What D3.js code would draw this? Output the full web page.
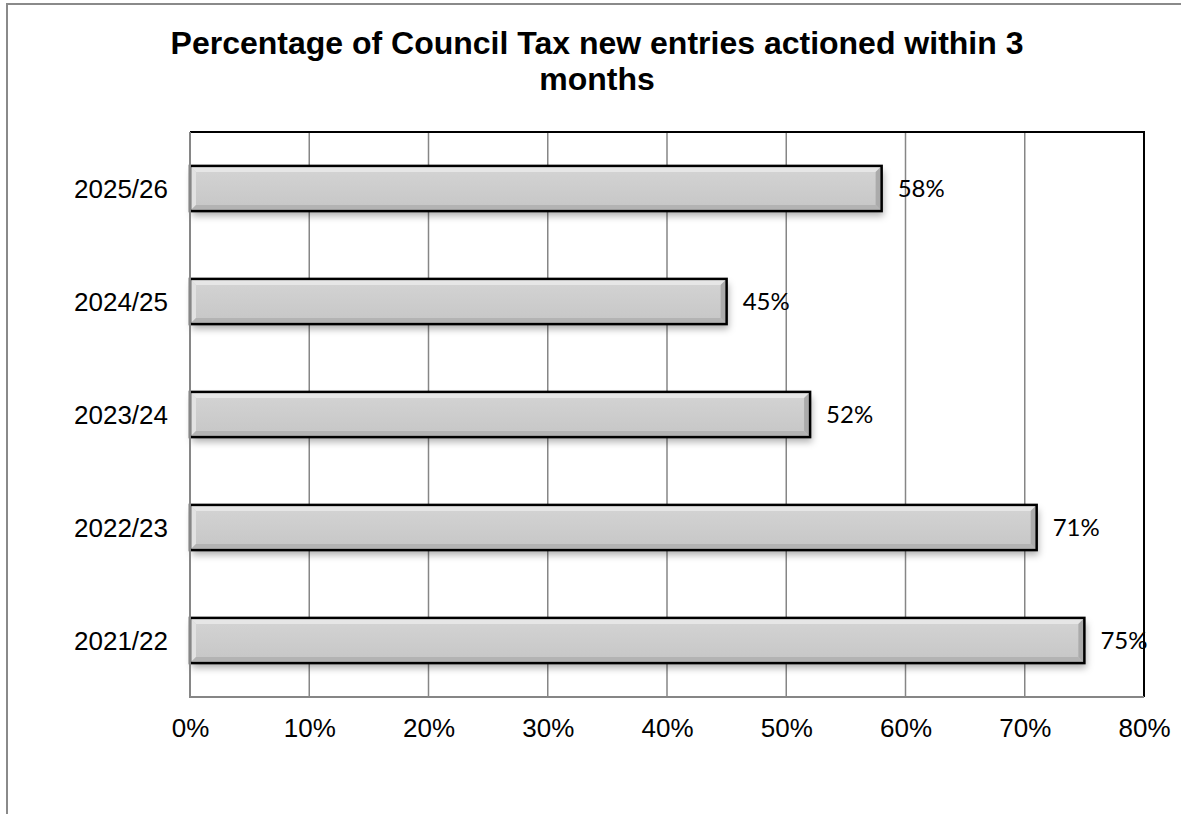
<!DOCTYPE html>
<html>
<head>
<meta charset="utf-8">
<script src="https://cdn.jsdelivr.net/npm/d3@7"></script>
<style>
  html, body { margin: 0; padding: 0; background: #fff; }
  svg { display: block; }
</style>
</head>
<body>
<svg id="chart" width="1181" height="814"></svg>
<script>
// Financial years, listed top to bottom
const categories = ["2025/26", "2024/25", "2023/24", "2022/23", "2021/22"];
// Percentage of new entries actioned within 3 months
const values = [58, 45, 52, 71, 75];
// Value axis ticks (percent)
const tickValues = [0, 10, 20, 30, 40, 50, 60, 70, 80];

const titleLines = ["Percentage of Council Tax new entries actioned within 3", "months"];

const svg = d3.select("#chart");
const plot = { left: 190, right: 1144, top: 132, bottom: 697 };

const x = d3.scaleLinear().domain([0, 80]).range([plot.left, plot.right]);
const y = d3.scaleBand().domain(categories)
  .range([plot.top, plot.bottom])
  .paddingInner(0.6).paddingOuter(0.3);

// Chart frame
svg.append("rect")
  .attr("x", 7).attr("y", 4).attr("width", 1300).attr("height", 1000)
  .attr("fill", "none").attr("stroke", "#8a8a8a").attr("stroke-width", 2);

// Title
svg.append("g").selectAll("text").data(titleLines).join("text")
  .attr("x", 597).attr("y", (d, i) => 54 + i * 36)
  .attr("text-anchor", "middle")
  .attr("font-family", "Liberation Sans, Arial, sans-serif")
  .attr("font-weight", "bold").attr("font-size", 32)
  .attr("fill", "#000")
  .text(d => d);

// Drop shadow for bars
const defs = svg.append("defs");
const f = defs.append("filter").attr("id", "shadow")
  .attr("x", "-5%").attr("y", "-30%").attr("width", "115%").attr("height", "190%");
f.append("feDropShadow").attr("dx", 2).attr("dy", 5).attr("stdDeviation", 3.5)
  .attr("flood-color", "#000").attr("flood-opacity", 0.3);

const fillGrad = defs.append("linearGradient").attr("id", "barFill")
  .attr("x1", 0).attr("y1", 0).attr("x2", 0).attr("y2", 1);
fillGrad.append("stop").attr("offset", "0%").attr("stop-color", "#d4d4d4");
fillGrad.append("stop").attr("offset", "100%").attr("stop-color", "#c6c6c6");

// Gridlines
svg.append("g").selectAll("line").data(tickValues.filter(t => t > 0 && t < 80)).join("line")
  .attr("x1", d => x(d)).attr("x2", d => x(d))
  .attr("y1", plot.top).attr("y2", plot.bottom)
  .attr("stroke", "#868686").attr("stroke-width", 1.5);

// Plot border: top and right in black
svg.append("path")
  .attr("d", `M${plot.left},${plot.top}H${plot.right}V${plot.bottom}`)
  .attr("fill", "none").attr("stroke", "#000").attr("stroke-width", 2);

// Bars with bevelled edges
const bev = 6;
const bars = svg.append("g").selectAll("g").data(categories).join("g");
bars.each(function (c, i) {
  const g = d3.select(this);
  const x0 = x(0), x1 = x(values[i]);
  const y0 = y(c), y1 = y(c) + y.bandwidth();
  g.append("rect").attr("x", x0).attr("y", y0).attr("width", x1 - x0).attr("height", y1 - y0)
    .attr("fill", "url(#barFill)").attr("filter", "url(#shadow)");
  const poly = (pts, col) => g.append("polygon")
    .attr("points", pts.map(p => p.join(",")).join(" ")).attr("fill", col);
  poly([[x0, y0], [x1, y0], [x1 - bev, y0 + bev], [x0 + bev, y0 + bev]], "#e6e6e6");
  poly([[x0, y0], [x0 + bev, y0 + bev], [x0 + bev, y1 - bev], [x0, y1]], "#e2e2e2");
  poly([[x1, y0], [x1, y1], [x1 - bev, y1 - bev], [x1 - bev, y0 + bev]], "#ababab");
  poly([[x0, y1], [x0 + bev, y1 - bev], [x1 - bev, y1 - bev], [x1, y1]], "#b3b3b3");
  g.append("rect").attr("x", x0).attr("y", y0).attr("width", x1 - x0).attr("height", y1 - y0)
    .attr("fill", "none").attr("stroke", "#000").attr("stroke-width", 2.5);
});

// Axes lines (left and bottom) in grey
svg.append("path")
  .attr("d", `M${plot.left},${plot.top}V${plot.bottom}H${plot.right}`)
  .attr("fill", "none").attr("stroke", "#868686").attr("stroke-width", 2);

// X axis tick labels
const xAxis = d3.axisBottom(x).tickValues(tickValues).tickFormat(d => d + "%").tickSize(0).tickPadding(0);
const gx = svg.append("g").attr("transform", `translate(0,${plot.bottom})`).call(xAxis);
gx.select(".domain").remove();
gx.selectAll("text")
  .attr("y", 40).attr("dy", 0)
  .attr("font-family", "Liberation Sans, Arial, sans-serif")
  .attr("font-size", 26).attr("fill", "#000");

// Y axis category labels
const yAxis = d3.axisLeft(y).tickSize(0).tickPadding(0);
const gy = svg.append("g").attr("transform", `translate(${plot.left},0)`).call(yAxis);
gy.select(".domain").remove();
gy.selectAll("text")
  .attr("x", -22).attr("dy", "0.36em")
  .attr("font-family", "Liberation Sans, Arial, sans-serif")
  .attr("font-size", 26).attr("fill", "#000");

// Value labels
svg.append("g").selectAll("text").data(categories).join("text")
  .attr("x", (c, i) => x(values[i]) + 16)
  .attr("y", c => y(c) + y.bandwidth() / 2)
  .attr("dy", "0.36em")
  .attr("font-family", "Lato, Carlito, Calibri, sans-serif")
  .attr("font-size", 24).attr("fill", "#000")
  .text((c, i) => values[i] + "%");
</script>
</body>
</html>
